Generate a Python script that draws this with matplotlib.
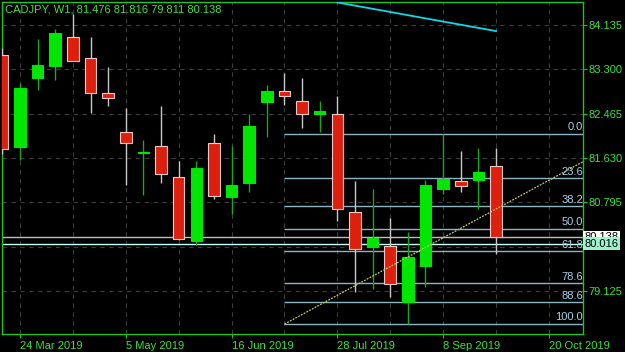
import pandas as pd
import matplotlib
matplotlib.use('Agg')
import matplotlib.pyplot as plt
import matplotlib.dates as mdates

plt.rcParams['font.family'] = ['Liberation Sans', 'DejaVu Sans']

# Weekly CADJPY candles (week start dates)
weeks = ['2019-03-17', '2019-03-24', '2019-03-31', '2019-04-07', '2019-04-14', '2019-04-21',
         '2019-04-28', '2019-05-05', '2019-05-12', '2019-05-19', '2019-05-26', '2019-06-02',
         '2019-06-09', '2019-06-16', '2019-06-23', '2019-06-30', '2019-07-07', '2019-07-14',
         '2019-07-21', '2019-07-28', '2019-08-04', '2019-08-11', '2019-08-18', '2019-08-25',
         '2019-09-01', '2019-09-08', '2019-09-15', '2019-09-22', '2019-09-29']
opens = [83.57, 81.84, 83.14, 83.36, 83.91, 83.51, 82.85, 82.12, 81.73, 81.86, 81.27, 80.07,
         81.91, 80.90, 81.16, 82.68, 82.89, 82.70, 82.46, 82.46, 80.61, 79.95, 79.97, 78.92,
         79.59, 81.05, 81.20, 81.22, 81.476]
highs = [83.70, 83.04, 83.87, 84.06, 84.34, 83.91, 83.34, 82.57, 81.97, 82.61, 81.57, 81.57,
         82.08, 81.86, 82.46, 83.01, 83.23, 83.14, 82.70, 82.80, 81.20, 81.05, 80.50, 80.24,
         81.22, 82.08, 81.76, 81.82, 81.816]
lows = [81.70, 81.59, 82.91, 83.10, 83.45, 82.48, 82.61, 81.12, 80.93, 81.16, 80.09, 79.99,
        80.86, 80.57, 80.99, 82.03, 82.63, 82.19, 82.12, 80.44, 79.11, 79.16, 79.01, 78.50,
        79.20, 80.95, 80.99, 80.67, 79.811]
closes = [81.80, 82.95, 83.38, 83.98, 83.46, 82.85, 82.76, 81.91, 81.75, 81.33, 80.10, 81.44,
          80.91, 81.12, 82.23, 82.89, 82.80, 82.46, 82.52, 80.67, 79.92, 80.12, 79.26, 79.76,
          81.12, 81.23, 81.10, 81.37, 80.138]

# Fibonacci retracement (anchors + ratios)
fib_start = '2019-07-07'
fib_high = 82.09
fib_low = 78.50
fib_ratios = [0.0, 23.6, 38.2, 50.0, 61.8, 78.6, 88.6, 100.0]

# trend lines
trend_x = ['2019-07-07', '2019-11-03']
trend_y = [78.50, 81.57]
cyan_x = ['2019-07-28', '2019-09-29']
cyan_y = [84.56, 84.02]

# price lines
close_price = 80.138
ask_price = 80.016

yticks = [84.135, 83.300, 82.465, 81.630, 80.795, 79.960, 79.125]
ytick_labels = ['84.135', '83.300', '82.465', '81.630', '80.795', '', '79.125']
xtick_dates = ['2019-03-24', '2019-05-05', '2019-06-16', '2019-07-28', '2019-09-08', '2019-10-20']
xtick_labels = ['24 Mar 2019', '5 May 2019', '16 Jun 2019', '28 Jul 2019', '8 Sep 2019', '20 Oct 2019']
grid_dates = ['2019-04-14', '2019-05-26', '2019-07-07', '2019-08-18', '2019-09-29']

GREEN_TXT = '#3ee03e'
AXIS_GREEN = '#1fc41f'
BULL = '#00e600'
BEAR = '#dd1f0e'

x = mdates.date2num(pd.to_datetime(weeks))

fig = plt.figure(figsize=(6.25, 3.52), dpi=100)
fig.patch.set_facecolor('black')
ax = fig.add_axes([2 / 625, 18 / 352, 581 / 625, 332 / 352])
ax.set_facecolor('black')

left = mdates.date2num(pd.Timestamp('2019-03-24')) - 7.15
right = left + 230.7
ax.set_xlim(left, right)
ax.set_ylim(78.313, 84.568)

# grid
ax.set_yticks(yticks)
ax.set_yticklabels(ytick_labels)
ax.set_xticks(mdates.date2num(pd.to_datetime(xtick_dates)))
ax.set_xticklabels(xtick_labels)
ax.set_xticks(mdates.date2num(pd.to_datetime(grid_dates)), minor=True)
ax.grid(True, which='both', color='#3c3c3c', linestyle=(0, (4, 4)), linewidth=0.8)
ax.set_axisbelow(True)

# price lines
ax.axhline(close_price, color='#bdbdbd', lw=1, zorder=1)
ax.axhline(ask_price, color='#c8fff8', lw=1, zorder=1)

# fibonacci
fib_x0 = mdates.date2num(pd.Timestamp(fib_start))
for r in fib_ratios:
    lvl = fib_high - r / 100 * (fib_high - fib_low)
    ax.hlines(lvl, fib_x0, right, color='#8fb4c4', lw=1, zorder=1)
    ax.text(1.0, lvl + 0.03, f'{r:.1f}', transform=ax.get_yaxis_transform(), ha='right',
            va='bottom', color='#a8d0e6', fontsize=8, zorder=2)

# candles
for xi, o, h, l, c in zip(x, opens, highs, lows, closes):
    bull = c >= o
    wick = '#1aa81a' if bull else '#c8c8c8'
    ax.vlines(xi, l, h, color=wick, lw=1, zorder=3)
    body_col = BULL if bull else BEAR
    edge = BULL if bull else '#f0c8c8'
    ax.bar(xi, max(abs(c - o), 0.015), bottom=min(o, c), width=4.6, color=body_col,
           edgecolor=edge, linewidth=0.8, zorder=4)

# trend lines
ax.plot(mdates.date2num(pd.to_datetime(trend_x)), trend_y, color='#c8c870', lw=0.9,
        linestyle=(0, (1.5, 1)), zorder=5)
ax.plot(mdates.date2num(pd.to_datetime(cyan_x)), cyan_y, color='#10d8e8', lw=1.3, zorder=5)

# axes styling
for s in ax.spines.values():
    s.set_color(AXIS_GREEN)
    s.set_linewidth(1)
ax.yaxis.tick_right()
ax.tick_params(axis='y', which='major', colors=AXIS_GREEN, labelcolor=GREEN_TXT, length=3,
               labelsize=8, pad=1)
ax.tick_params(axis='x', which='major', colors=AXIS_GREEN, labelcolor=GREEN_TXT, length=3,
               labelsize=8, pad=2)
ax.tick_params(which='minor', length=0)
for lab in ax.get_xticklabels():
    lab.set_ha('left')

# title
ax.text(3 / 581, 0.993, 'CADJPY, W1, 81.476 81.816 79.811 80.138', transform=ax.transAxes,
        ha='left', va='top', color=GREEN_TXT, fontsize=8)

# price boxes on the right axis
ax.text(1.003, close_price, '80.138', transform=ax.get_yaxis_transform(), ha='left',
        va='center', fontsize=8, color='black', clip_on=False,
        bbox=dict(boxstyle='square,pad=0.12', fc='white', ec='none'))
ax.text(1.003, ask_price, '80.016', transform=ax.get_yaxis_transform(), ha='left',
        va='center', fontsize=8, color='black', clip_on=False,
        bbox=dict(boxstyle='square,pad=0.12', fc='#9cf2cc', ec='none'))

fig.savefig('out.png', dpi=100, facecolor='black')
